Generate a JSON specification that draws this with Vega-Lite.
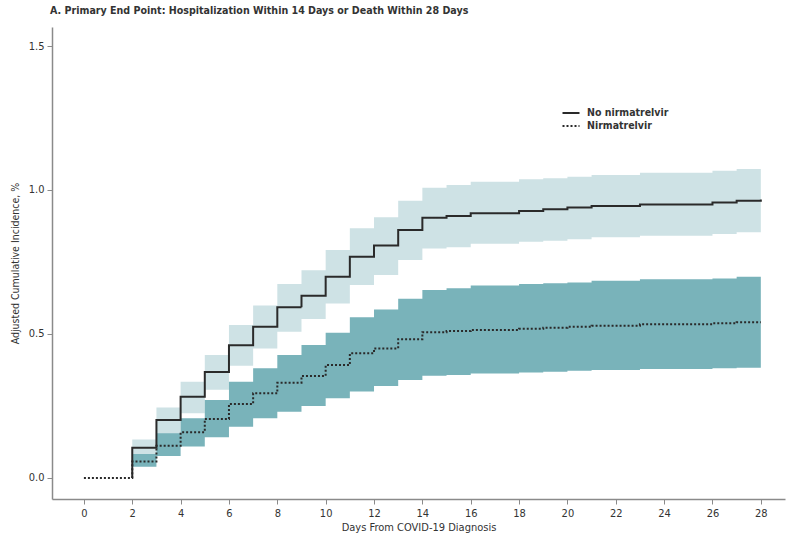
{
  "$schema": "https://vega.github.io/schema/vega-lite/v6.json",
  "width": 733,
  "height": 472,
  "autosize": {"type": "none"},
  "padding": {"left": 52, "top": 27, "right": 5, "bottom": 39},
  "background": "white",
  "title": {
    "text": "A. Primary End Point: Hospitalization Within 14 Days or Death Within 28 Days",
    "anchor": "start",
    "frame": "group",
    "offset": 10,
    "dx": -2,
    "font": "DejaVu Sans Condensed",
    "fontSize": 10.6,
    "fontWeight": "bold",
    "color": "#333333"
  },
  "datasets": {
    "bands": [
      {"series": "No nirmatrelvir", "day": 2, "lo": 0.075, "hi": 0.134},
      {"series": "No nirmatrelvir", "day": 3, "lo": 0.150, "hi": 0.245},
      {"series": "No nirmatrelvir", "day": 4, "lo": 0.225, "hi": 0.334},
      {"series": "No nirmatrelvir", "day": 5, "lo": 0.306, "hi": 0.427},
      {"series": "No nirmatrelvir", "day": 6, "lo": 0.390, "hi": 0.531},
      {"series": "No nirmatrelvir", "day": 7, "lo": 0.450, "hi": 0.599},
      {"series": "No nirmatrelvir", "day": 8, "lo": 0.508, "hi": 0.674},
      {"series": "No nirmatrelvir", "day": 9, "lo": 0.552, "hi": 0.721},
      {"series": "No nirmatrelvir", "day": 10, "lo": 0.606, "hi": 0.792},
      {"series": "No nirmatrelvir", "day": 11, "lo": 0.670, "hi": 0.867},
      {"series": "No nirmatrelvir", "day": 12, "lo": 0.705, "hi": 0.905},
      {"series": "No nirmatrelvir", "day": 13, "lo": 0.757, "hi": 0.963},
      {"series": "No nirmatrelvir", "day": 14, "lo": 0.797, "hi": 1.008},
      {"series": "No nirmatrelvir", "day": 15, "lo": 0.801, "hi": 1.017},
      {"series": "No nirmatrelvir", "day": 16, "lo": 0.813, "hi": 1.029},
      {"series": "No nirmatrelvir", "day": 18, "lo": 0.820, "hi": 1.037},
      {"series": "No nirmatrelvir", "day": 19, "lo": 0.824, "hi": 1.041},
      {"series": "No nirmatrelvir", "day": 20, "lo": 0.829, "hi": 1.046},
      {"series": "No nirmatrelvir", "day": 21, "lo": 0.836, "hi": 1.052},
      {"series": "No nirmatrelvir", "day": 23, "lo": 0.841, "hi": 1.060},
      {"series": "No nirmatrelvir", "day": 26, "lo": 0.847, "hi": 1.067},
      {"series": "No nirmatrelvir", "day": 27, "lo": 0.853, "hi": 1.073},
      {"series": "No nirmatrelvir", "day": 28, "lo": 0.853, "hi": 1.073},
      {"series": "Nirmatrelvir", "day": 2, "lo": 0.039, "hi": 0.083},
      {"series": "Nirmatrelvir", "day": 3, "lo": 0.076, "hi": 0.155},
      {"series": "Nirmatrelvir", "day": 4, "lo": 0.109, "hi": 0.207},
      {"series": "Nirmatrelvir", "day": 5, "lo": 0.141, "hi": 0.271},
      {"series": "Nirmatrelvir", "day": 6, "lo": 0.178, "hi": 0.334},
      {"series": "Nirmatrelvir", "day": 7, "lo": 0.207, "hi": 0.381},
      {"series": "Nirmatrelvir", "day": 8, "lo": 0.230, "hi": 0.427},
      {"series": "Nirmatrelvir", "day": 9, "lo": 0.250, "hi": 0.462},
      {"series": "Nirmatrelvir", "day": 10, "lo": 0.277, "hi": 0.504},
      {"series": "Nirmatrelvir", "day": 11, "lo": 0.300, "hi": 0.558},
      {"series": "Nirmatrelvir", "day": 12, "lo": 0.319, "hi": 0.585},
      {"series": "Nirmatrelvir", "day": 13, "lo": 0.340, "hi": 0.622},
      {"series": "Nirmatrelvir", "day": 14, "lo": 0.355, "hi": 0.653},
      {"series": "Nirmatrelvir", "day": 15, "lo": 0.358, "hi": 0.659},
      {"series": "Nirmatrelvir", "day": 16, "lo": 0.363, "hi": 0.668},
      {"series": "Nirmatrelvir", "day": 18, "lo": 0.366, "hi": 0.674},
      {"series": "Nirmatrelvir", "day": 19, "lo": 0.369, "hi": 0.676},
      {"series": "Nirmatrelvir", "day": 20, "lo": 0.372, "hi": 0.679},
      {"series": "Nirmatrelvir", "day": 21, "lo": 0.375, "hi": 0.685},
      {"series": "Nirmatrelvir", "day": 23, "lo": 0.378, "hi": 0.690},
      {"series": "Nirmatrelvir", "day": 26, "lo": 0.381, "hi": 0.693},
      {"series": "Nirmatrelvir", "day": 27, "lo": 0.383, "hi": 0.699},
      {"series": "Nirmatrelvir", "day": 28, "lo": 0.383, "hi": 0.699}
    ],
    "lines": [
      {"series": "No nirmatrelvir", "day": 2, "est": 0},
      {"series": "No nirmatrelvir", "day": 2, "est": 0.105},
      {"series": "No nirmatrelvir", "day": 3, "est": 0.201},
      {"series": "No nirmatrelvir", "day": 4, "est": 0.282},
      {"series": "No nirmatrelvir", "day": 5, "est": 0.368},
      {"series": "No nirmatrelvir", "day": 6, "est": 0.461},
      {"series": "No nirmatrelvir", "day": 7, "est": 0.525},
      {"series": "No nirmatrelvir", "day": 8, "est": 0.593},
      {"series": "No nirmatrelvir", "day": 9, "est": 0.633},
      {"series": "No nirmatrelvir", "day": 10, "est": 0.699},
      {"series": "No nirmatrelvir", "day": 11, "est": 0.768},
      {"series": "No nirmatrelvir", "day": 12, "est": 0.807},
      {"series": "No nirmatrelvir", "day": 13, "est": 0.861},
      {"series": "No nirmatrelvir", "day": 14, "est": 0.904},
      {"series": "No nirmatrelvir", "day": 15, "est": 0.910},
      {"series": "No nirmatrelvir", "day": 16, "est": 0.919},
      {"series": "No nirmatrelvir", "day": 18, "est": 0.927},
      {"series": "No nirmatrelvir", "day": 19, "est": 0.933},
      {"series": "No nirmatrelvir", "day": 20, "est": 0.939},
      {"series": "No nirmatrelvir", "day": 21, "est": 0.944},
      {"series": "No nirmatrelvir", "day": 23, "est": 0.950},
      {"series": "No nirmatrelvir", "day": 26, "est": 0.957},
      {"series": "No nirmatrelvir", "day": 27, "est": 0.963},
      {"series": "No nirmatrelvir", "day": 28, "est": 0.967},
      {"series": "Nirmatrelvir", "day": 0, "est": 0},
      {"series": "Nirmatrelvir", "day": 2, "est": 0.057},
      {"series": "Nirmatrelvir", "day": 3, "est": 0.112},
      {"series": "Nirmatrelvir", "day": 4, "est": 0.159},
      {"series": "Nirmatrelvir", "day": 5, "est": 0.205},
      {"series": "Nirmatrelvir", "day": 6, "est": 0.257},
      {"series": "Nirmatrelvir", "day": 7, "est": 0.294},
      {"series": "Nirmatrelvir", "day": 8, "est": 0.331},
      {"series": "Nirmatrelvir", "day": 9, "est": 0.354},
      {"series": "Nirmatrelvir", "day": 10, "est": 0.392},
      {"series": "Nirmatrelvir", "day": 11, "est": 0.433},
      {"series": "Nirmatrelvir", "day": 12, "est": 0.450},
      {"series": "Nirmatrelvir", "day": 13, "est": 0.482},
      {"series": "Nirmatrelvir", "day": 14, "est": 0.506},
      {"series": "Nirmatrelvir", "day": 15, "est": 0.510},
      {"series": "Nirmatrelvir", "day": 16, "est": 0.514},
      {"series": "Nirmatrelvir", "day": 18, "est": 0.518},
      {"series": "Nirmatrelvir", "day": 19, "est": 0.522},
      {"series": "Nirmatrelvir", "day": 20, "est": 0.525},
      {"series": "Nirmatrelvir", "day": 21, "est": 0.529},
      {"series": "Nirmatrelvir", "day": 23, "est": 0.534},
      {"series": "Nirmatrelvir", "day": 26, "est": 0.537},
      {"series": "Nirmatrelvir", "day": 27, "est": 0.541},
      {"series": "Nirmatrelvir", "day": 28, "est": 0.541}
    ]
  },
  "encoding": {
    "x": {
      "field": "day",
      "type": "quantitative",
      "scale": {"domain": [-1.32, 29], "nice": false, "zero": false},
      "axis": {
        "title": "Days From COVID-19 Diagnosis",
        "values": [0, 2, 4, 6, 8, 10, 12, 14, 16, 18, 20, 22, 24, 26, 28],
        "format": "d",
        "grid": false,
        "titlePadding": 3,
        "titleFontSize": 11
      }
    }
  },
  "layer": [
    {
      "data": {"name": "bands"},
      "transform": [{"filter": "datum.series === 'No nirmatrelvir'"}],
      "mark": {"type": "area", "interpolate": "step-after", "color": "#cee2e5", "opacity": 1},
      "encoding": {
        "y": {"field": "lo", "type": "quantitative"},
        "y2": {"field": "hi"}
      }
    },
    {
      "data": {"name": "bands"},
      "transform": [{"filter": "datum.series === 'Nirmatrelvir'"}],
      "mark": {"type": "area", "interpolate": "step-after", "color": "#79b3ba", "opacity": 1},
      "encoding": {
        "y": {"field": "lo", "type": "quantitative"},
        "y2": {"field": "hi"}
      }
    },
    {
      "data": {"name": "lines"},
      "mark": {"type": "line", "interpolate": "step-after", "color": "#2a2a2a", "strokeWidth": 2},
      "encoding": {
        "y": {
          "field": "est",
          "type": "quantitative",
          "scale": {"domain": [-0.073, 1.566], "nice": false, "zero": false},
          "axis": {
            "title": "Adjusted Cumulative Incidence, %",
            "values": [0, 0.5, 1, 1.5],
            "format": ".1f",
            "grid": false,
            "titlePadding": 8
          }
        },
        "strokeDash": {
          "field": "series",
          "type": "nominal",
          "scale": {"domain": ["No nirmatrelvir", "Nirmatrelvir"], "range": [[1, 0], [2, 2]]},
          "legend": {
            "title": null,
            "orient": "none",
            "legendX": 513,
            "legendY": 80,
            "symbolType": "M-1.7,0H1.7",
            "symbolSize": 100,
            "symbolStrokeWidth": 2,
            "symbolStrokeColor": "#2a2a2a",
            "symbolFillColor": "transparent",
            "labelFont": "DejaVu Sans Condensed",
            "labelFontSize": 10.5,
            "labelFontWeight": "bold",
            "labelColor": "#333333",
            "rowPadding": 1,
            "labelOffset": 10
          }
        }
      }
    }
  ],
  "config": {
    "view": {"stroke": null},
    "axis": {
      "domainColor": "#8a8a8a",
      "domainWidth": 1.5,
      "tickColor": "#8a8a8a",
      "tickWidth": 1,
      "tickSize": 5,
      "labelFont": "DejaVu Sans Condensed",
      "labelFontSize": 11,
      "labelColor": "#333333",
      "titleFont": "DejaVu Sans Condensed",
      "titleFontSize": 10.5,
      "titleFontWeight": "normal",
      "titleColor": "#333333",
      "labelPadding": 3
    }
  }
}
